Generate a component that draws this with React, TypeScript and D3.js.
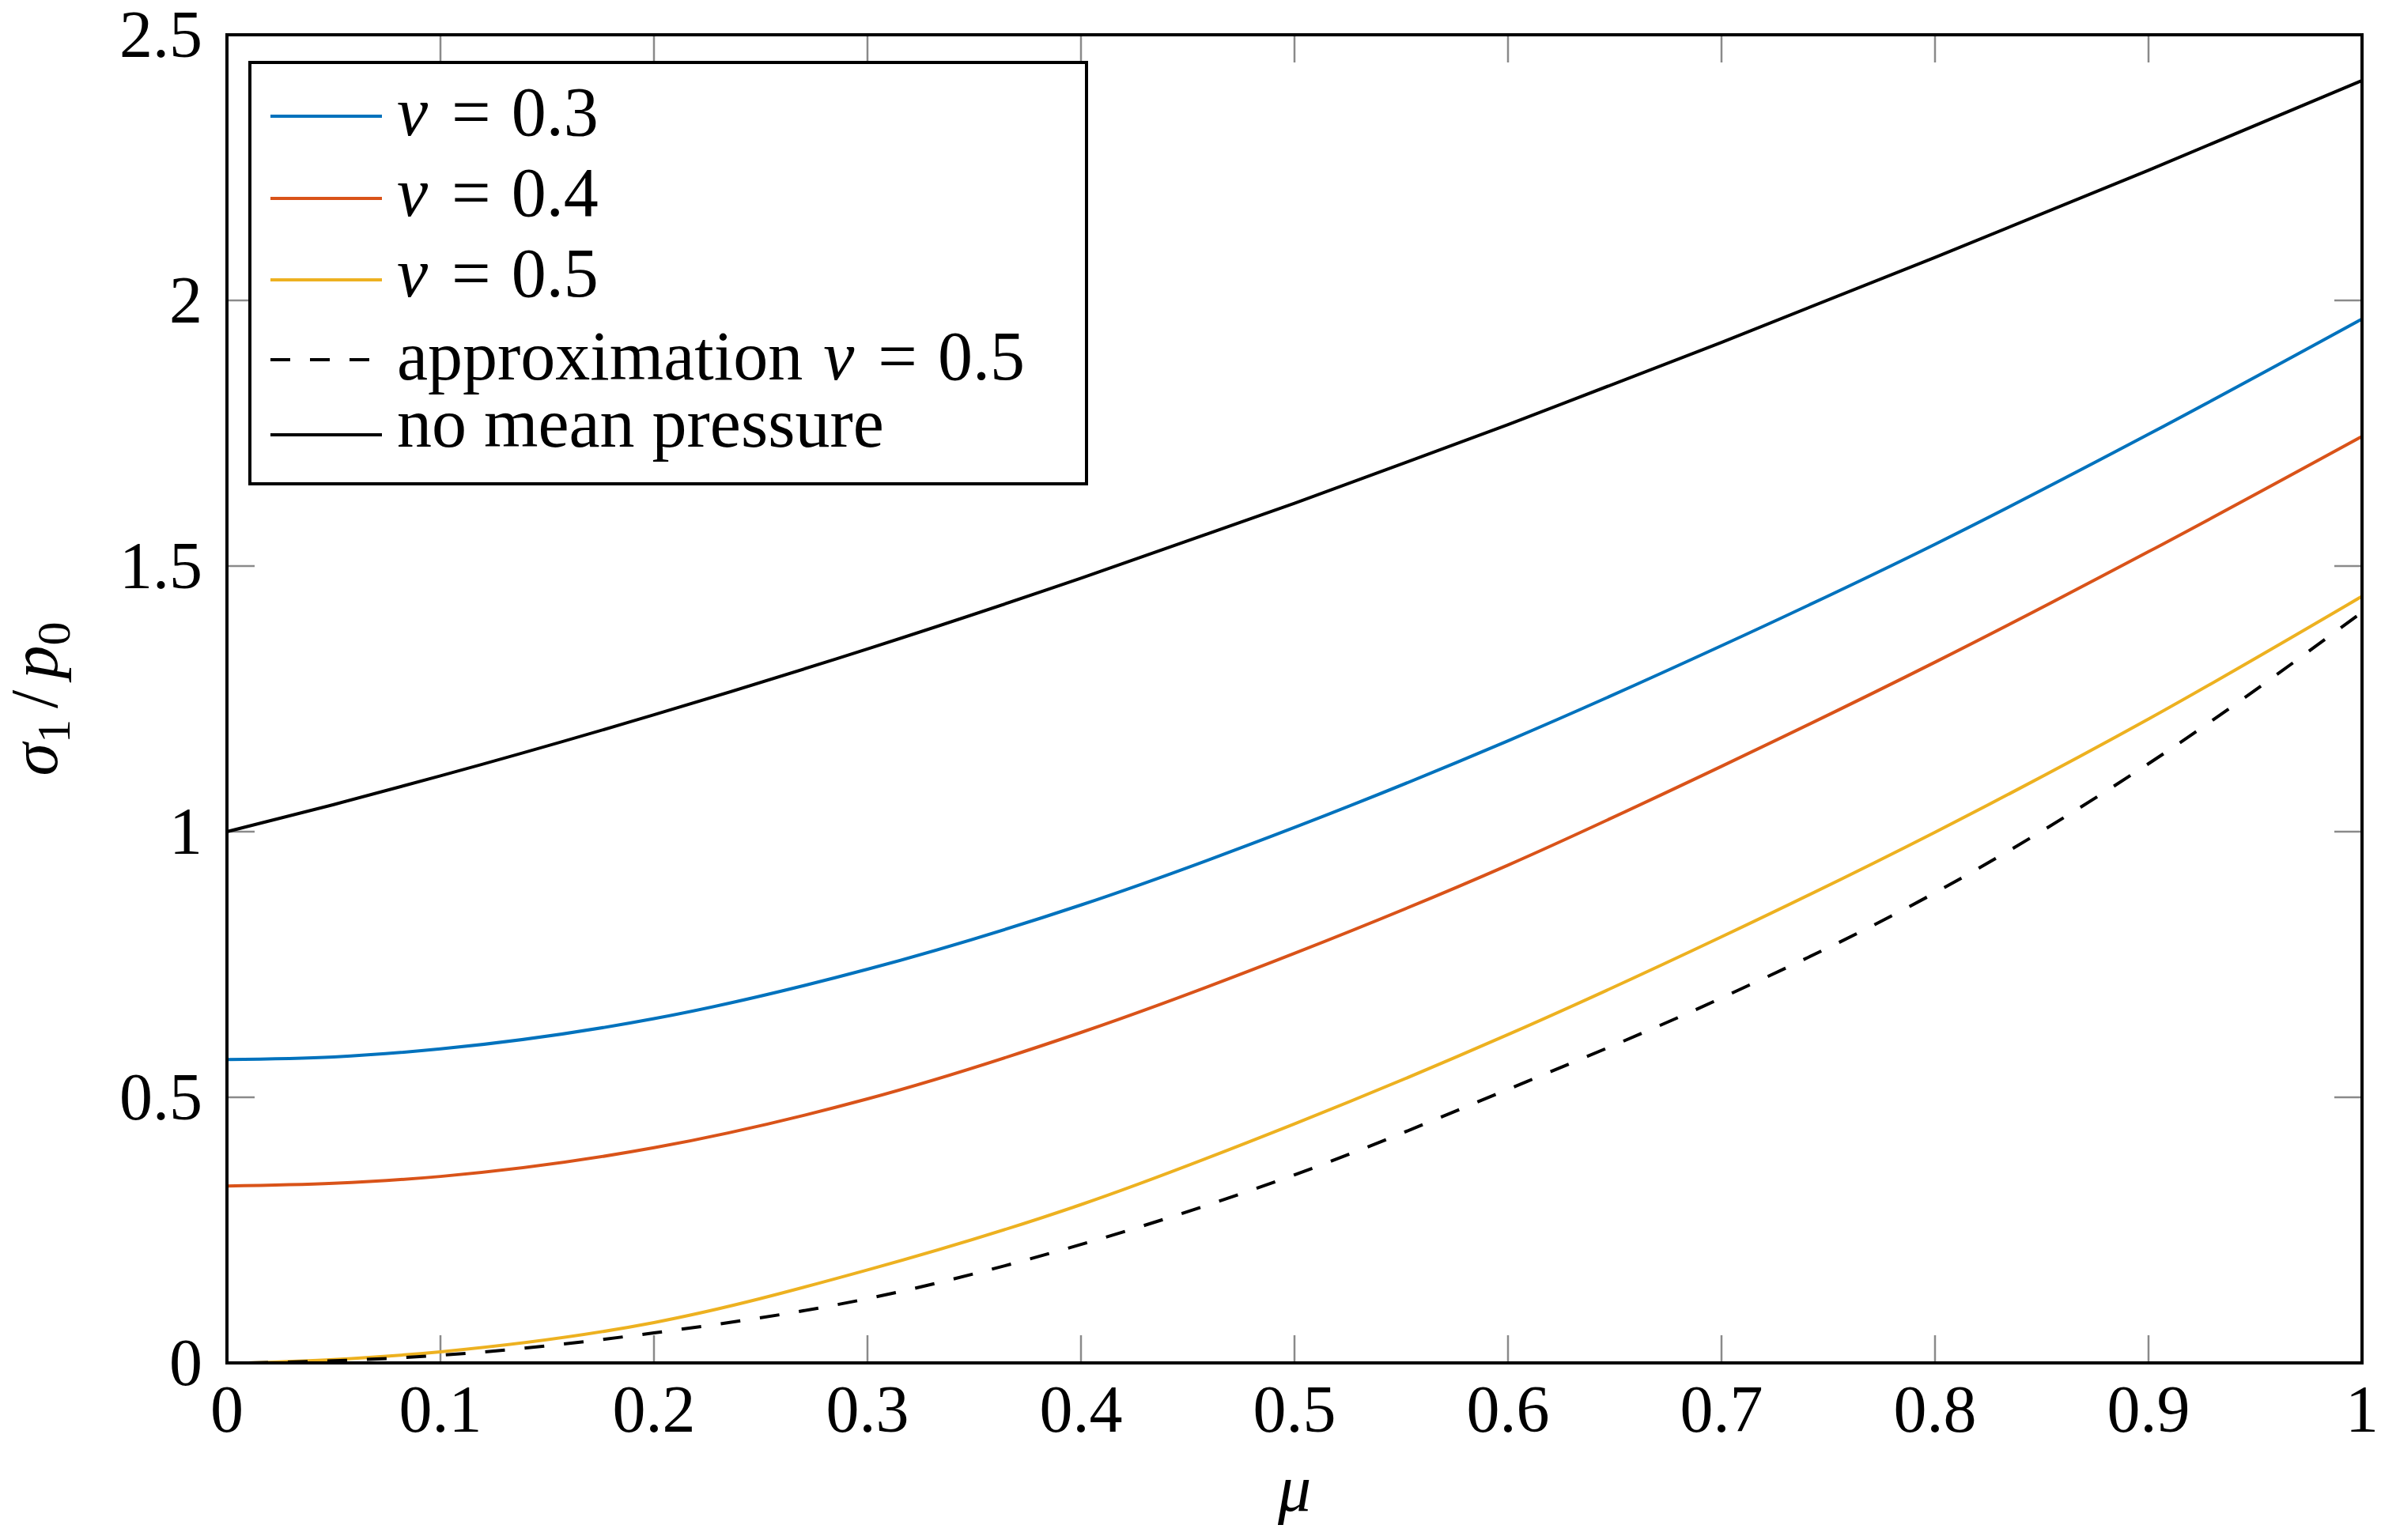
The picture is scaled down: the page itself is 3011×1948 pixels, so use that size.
import React from "react";
import * as d3 from "d3";

// friction coefficient samples (x axis)
const MU = [0, 0.05, 0.1, 0.2, 0.3, 0.4, 0.5, 0.6, 0.7, 0.8, 0.9, 1];
// the nu = 0.5 curves start just right of zero
const MU_LATE = [0.01, 0.05, 0.1, 0.2, 0.3, 0.4, 0.5, 0.6, 0.7, 0.8, 0.9, 1];

// sigma_1 / p_0
const NU_03 = [0.571, 0.576, 0.591, 0.648, 0.741, 0.862, 1.008, 1.171, 1.35, 1.541, 1.748, 1.965];
const NU_04 = [0.333, 0.338, 0.351, 0.405, 0.497, 0.622, 0.771, 0.937, 1.123, 1.319, 1.527, 1.744];
const NU_05 = [0, 0.0064, 0.021, 0.076, 0.175, 0.298, 0.45, 0.618, 0.802, 0.999, 1.212, 1.443];
const APPROX_05 = [0, 0.004, 0.0144, 0.0565, 0.121, 0.223, 0.354, 0.515, 0.687, 0.885, 1.128, 1.413];
const NO_MEAN = [1, 1.051, 1.105, 1.22, 1.344, 1.477, 1.618, 1.766, 1.921, 2.081, 2.245, 2.414];

const X_TICKS = [0, 0.1, 0.2, 0.3, 0.4, 0.5, 0.6, 0.7, 0.8, 0.9, 1];
const X_TICK_LABELS = ["0", "0.1", "0.2", "0.3", "0.4", "0.5", "0.6", "0.7", "0.8", "0.9", "1"];
const Y_TICKS = [0, 0.5, 1, 1.5, 2, 2.5];
const Y_TICK_LABELS = ["0", "0.5", "1", "1.5", "2", "2.5"];

interface Series {
  key: string;
  pre: string; // text before nu
  nu: string; // value after "nu =", empty for none
  mu: number[];
  values: number[];
  color: string;
  dash?: string;
}

const SERIES: Series[] = [
  { key: "nu03", pre: "", nu: "0.3", mu: MU, values: NU_03, color: "#0072BD" },
  { key: "nu04", pre: "", nu: "0.4", mu: MU, values: NU_04, color: "#D95319" },
  { key: "nu05", pre: "", nu: "0.5", mu: MU_LATE, values: NU_05, color: "#EDB120" },
  { key: "approx", pre: "approximation", nu: "0.5", mu: MU_LATE, values: APPROX_05, color: "#000000", dash: "25 25" },
  { key: "nomean", pre: "no mean pressure", nu: "", mu: MU, values: NO_MEAN, color: "#000000" },
];

const W = 3011;
const H = 1948;
const margin = { left: 287, right: 24, top: 44, bottom: 224 };
const FONT = "'Liberation Serif', 'Times New Roman', serif";
const FS = 84; // tick and axis labels
const LFS = 88; // legend entries

// legend layout: sample line y and text baseline per row
const legendBox = { x: 316, y: 79, w: 1058, h: 533 };
const legendLineY = [147, 251, 354, 455, 550];
const legendTextY = [171, 273, 375, 480, 565];

export default function App() {
  const x = d3.scaleLinear().domain([0, 1]).range([margin.left, W - margin.right]);
  const y = d3.scaleLinear().domain([0, 2.5]).range([H - margin.bottom, margin.top]);
  const [x0, x1] = x.range();
  const [y0, y1] = y.range();
  const tickLen = 35;

  const line = (s: Series) =>
    d3
      .line<number>()
      .x((_, i) => x(s.mu[i]))
      .y((v) => y(v))
      .curve(d3.curveMonotoneX)(s.values) || "";

  return (
    <svg
      width={W}
      height={H}
      viewBox={`0 0 ${W} ${H}`}
      style={{ position: "absolute", left: 0, top: 0, background: "#fff", fontFamily: FONT }}
    >
      <rect width={W} height={H} fill="#fff" />

      {/* inward ticks on all four sides */}
      <g stroke="#8a8a8a" strokeWidth={2.5}>
        {X_TICKS.slice(1, -1).map((t) => (
          <g key={`xt${t}`}>
            <line x1={x(t)} x2={x(t)} y1={y0} y2={y0 - tickLen} />
            <line x1={x(t)} x2={x(t)} y1={y1} y2={y1 + tickLen} />
          </g>
        ))}
        {Y_TICKS.slice(1, -1).map((t) => (
          <g key={`yt${t}`}>
            <line x1={x0} x2={x0 + tickLen} y1={y(t)} y2={y(t)} />
            <line x1={x1} x2={x1 - tickLen} y1={y(t)} y2={y(t)} />
          </g>
        ))}
      </g>

      {/* curves */}
      <g fill="none" strokeWidth={4}>
        {SERIES.map((s) => (
          <path key={s.key} d={line(s)} stroke={s.color} strokeDasharray={s.dash} />
        ))}
      </g>

      {/* frame */}
      <rect
        x={x0}
        y={y1}
        width={x1 - x0}
        height={y0 - y1}
        fill="none"
        stroke="#000"
        strokeWidth={4}
      />

      {/* tick labels */}
      <g fontSize={FS} fontFamily={FONT} fill="#000">
        {X_TICKS.map((t, i) => (
          <text key={`xl${t}`} x={x(t)} y={y0 + 87} textAnchor="middle" fontFamily={FONT}>
            {X_TICK_LABELS[i]}
          </text>
        ))}
        {Y_TICKS.map((t, i) => (
          <text key={`yl${t}`} x={x0 - 31} y={y(t) + 28} textAnchor="end" fontFamily={FONT}>
            {Y_TICK_LABELS[i]}
          </text>
        ))}
      </g>

      {/* axis labels */}
      <text
        x={(x0 + x1) / 2}
        y={1911}
        fontSize={FS}
        fontFamily={FONT}
        textAnchor="middle"
        fontStyle="italic"
      >
        μ
      </text>
      <text
        transform={`translate(72,${(y0 + y1) / 2}) rotate(-90)`}
        fontSize={FS}
        fontFamily={FONT}
        textAnchor="middle"
      >
        <tspan fontFamily={FONT} fontStyle="italic">σ</tspan>
        <tspan fontFamily={FONT} fontSize={60} dy={16}>1</tspan>
        <tspan fontFamily={FONT} dy={-16} dx={14}>/</tspan>
        <tspan fontFamily={FONT} fontStyle="italic" dx={14}>p</tspan>
        <tspan fontFamily={FONT} fontSize={60} dy={16}>0</tspan>
      </text>

      {/* legend */}
      <rect
        x={legendBox.x}
        y={legendBox.y}
        width={legendBox.w}
        height={legendBox.h}
        fill="#fff"
        stroke="#000"
        strokeWidth={4}
      />
      {SERIES.map((s, i) => (
        <g key={`lg${s.key}`}>
          <line
            x1={342}
            x2={483}
            y1={legendLineY[i]}
            y2={legendLineY[i]}
            stroke={s.color}
            strokeWidth={4}
            strokeDasharray={s.dash}
          />
          <text x={502} y={legendTextY[i]} fontSize={LFS} fontFamily={FONT} fill="#000">
            {s.pre && <tspan fontFamily={FONT}>{s.pre}</tspan>}
            {s.nu && (
              <>
                <tspan fontFamily={FONT} fontStyle="italic" dx={s.pre ? 26 : 0}>ν</tspan>
                <tspan fontFamily={FONT} dx={30}>=</tspan>
                <tspan fontFamily={FONT} dx={26}>{s.nu}</tspan>
              </>
            )}
          </text>
        </g>
      ))}
    </svg>
  );
}
